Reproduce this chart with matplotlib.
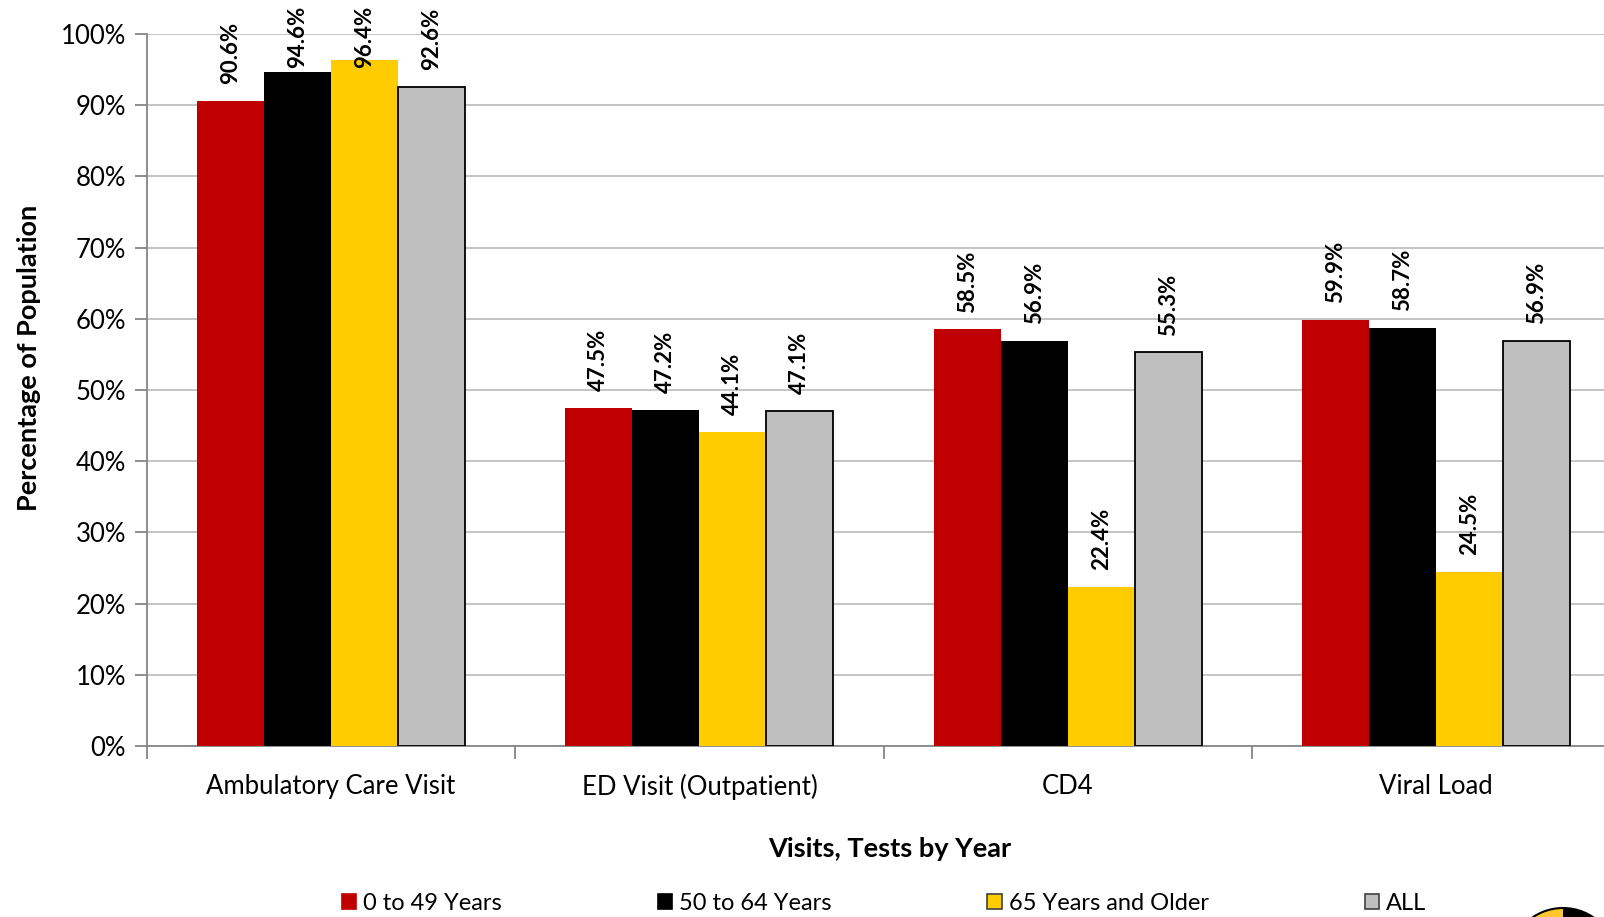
import matplotlib
matplotlib.use("Agg")
import matplotlib.pyplot as plt
from matplotlib.patches import Patch, Wedge, Circle
import numpy as np

plt.rcParams['font.family'] = ['Lato', 'DejaVu Sans']

categories = ["Ambulatory Care Visit", "ED Visit (Outpatient)", "CD4", "Viral Load"]
series_names = ["0 to 49 Years", "50 to 64 Years", "65 Years and Older", "ALL"]
age_0_49 = [90.6, 47.5, 58.5, 59.9]
age_50_64 = [94.6, 47.2, 56.9, 58.7]
age_65_plus = [96.4, 44.1, 22.4, 24.5]
all_ages = [92.6, 47.1, 55.3, 56.9]
y_ticks = [0, 10, 20, 30, 40, 50, 60, 70, 80, 90, 100]

series = [age_0_49, age_50_64, age_65_plus, all_ages]
colors = ["#C00000", "#000000", "#FFCC00", "#BFBFBF"]
edges = ["none", "none", "none", "#000000"]

W, H = 1604, 917
fig = plt.figure(figsize=(W / 100, H / 100), dpi=100)
ax = fig.add_axes([147 / W, 1 - 746 / H, 1473 / W, 712 / H])

x = np.arange(len(categories))
bw = 0.182
labels = []
for i, (vals, c, ec) in enumerate(zip(series, colors, edges)):
    pos = x + (i - 1.5) * bw
    ax.bar(pos, vals, width=bw, color=c, edgecolor=ec,
           linewidth=1.3 if ec != "none" else 0, zorder=3)
    for xp, v in zip(pos, vals):
        t = ax.annotate(f"{v:.1f}%", (xp, v), xytext=(0, 12), textcoords="offset points",
                        rotation=90, ha="center", va="bottom", fontsize=16,
                        fontweight="bold", zorder=4)
        labels.append(t)

ax.set_xlim(-0.5, len(categories) - 0.5)
ax.set_ylim(0, 100)
ax.set_yticks(y_ticks)
ax.set_yticklabels([f"{t}%" for t in y_ticks], fontsize=18.5)
ax.yaxis.grid(True, color="#BFBFBF", linewidth=1.3, zorder=0)
ax.set_axisbelow(True)

ax.set_xticks(np.arange(-0.5, len(categories)), minor=False)
ax.set_xticklabels([])
ax.set_xticks(x, minor=True)
ax.set_xticklabels(categories, minor=True, fontsize=18.5)
ax.tick_params(axis="x", which="major", length=9, color="#868686", width=1.3, direction="out")
ax.tick_params(axis="x", which="minor", length=0, pad=20)
ax.tick_params(axis="y", length=9, color="#868686", width=1.3, direction="out", pad=6)

for s in ["top", "right"]:
    ax.spines[s].set_visible(False)
for s in ["left", "bottom"]:
    ax.spines[s].set_color("#868686")
    ax.spines[s].set_linewidth(1.3)

fig.text(29 / W, 1 - 358 / H, "Percentage of Population", rotation=90,
         ha="center", va="center", fontsize=19.5, fontweight="bold")
fig.text(890 / W, 1 - 849 / H, "Visits, Tests by Year",
         ha="center", va="center", fontsize=19.5, fontweight="bold")

handles = [Patch(facecolor=c, edgecolor=("#404040" if i >= 2 else c), linewidth=1.2)
           for i, c in enumerate(colors)]
fig.legend(handles, series_names, loc="center", bbox_to_anchor=(884 / W, 1 - 903 / H),
           ncol=4, frameon=False, fontsize=17, handlelength=0.6, handleheight=0.6,
           handletextpad=0.3, columnspacing=6.6, borderaxespad=0, borderpad=0)

# keep value labels inside the figure: push tall ones down so their top stays visible
fig.canvas.draw()
renderer = fig.canvas.get_renderer()
top_limit = H - 6
for t in labels:
    bb = t.get_window_extent(renderer)
    if bb.y1 > top_limit:
        shift_px = bb.y1 - top_limit
        ox, oy = t.xyann
        t.xyann = (ox, oy - shift_px * 72 / fig.dpi)

# emblem in the lower-right corner
lax = fig.add_axes([0, 0, 1, 1], zorder=5)
lax.set_xlim(0, W)
lax.set_ylim(H, 0)
lax.axis("off")
cx, cy, r = 1563, 962, 54
lax.add_patch(Wedge((cx, cy), r, 90, 270, facecolor="#FFC72C", edgecolor="none"))
lax.add_patch(Wedge((cx, cy), r, 270, 90, facecolor="#000000", edgecolor="none"))
lax.add_patch(Circle((cx, cy), r, facecolor="none", edgecolor="#000000", linewidth=1.5))

fig.savefig("out.png", dpi=100)
